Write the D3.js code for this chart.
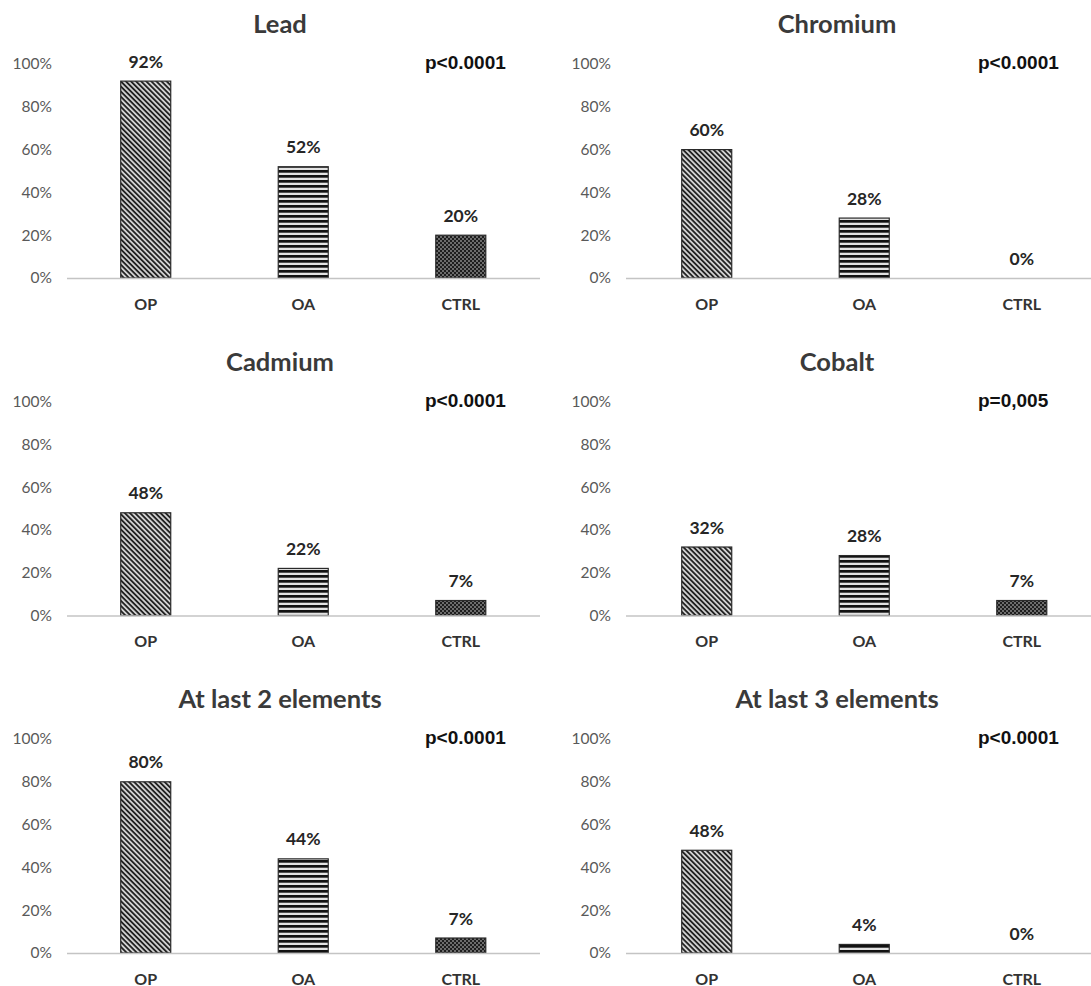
<!DOCTYPE html>
<html>
<head>
<meta charset="utf-8">
<style>
  body { margin: 0; background: #fff; }
  svg { display: block; }
</style>
</head>
<body>
<div class="container"></div>
<script src="https://d3js.org/d3.v7.min.js"></script>
<script>
  // chart data
  var titles = ['Lead', 'Chromium', 'Cadmium', 'Cobalt', 'At last 2 elements', 'At last 3 elements'];
  var categories = ['OP', 'OA', 'CTRL'];
  var values = [
    [92, 52, 20],
    [60, 28, 0],
    [48, 22, 7],
    [32, 28, 7],
    [80, 44, 7],
    [48, 4, 0]
  ];
  var pValues = ['p<0.0001', 'p<0.0001', 'p<0.0001', 'p=0,005', 'p<0.0001', 'p<0.0001'];
  var yTicks = [0, 20, 40, 60, 80, 100];

  // layout of the 2x3 grid
  var cols = [
    { tick: 52, axis0: 67, axis1: 540, band: [67, 539.5], title: 280, p: 425 },
    { tick: 611, axis0: 626, axis1: 1091, band: [628, 1100.5], title: 837, p: 978 }
  ];
  var rowBase = [278, 615.5, 953];
  var plotH = 214;

  var svg = d3.select('.container').append('svg')
      .attr('width', 1091)
      .attr('height', 986);

  var defs = svg.append('defs');

  // OP: diagonal stripes
  var pOP = defs.append('pattern')
      .attr('id', 'pat-OP')
      .attr('patternUnits', 'userSpaceOnUse')
      .attr('width', 8).attr('height', 3.6)
      .attr('patternTransform', 'rotate(45)');
  pOP.append('rect').attr('width', 8).attr('height', 3.6).attr('fill', '#d0d0d0');
  pOP.append('rect').attr('width', 8).attr('height', 1.8).attr('fill', '#222');

  // OA: horizontal stripes
  var pOA = defs.append('pattern')
      .attr('id', 'pat-OA')
      .attr('patternUnits', 'userSpaceOnUse')
      .attr('width', 10).attr('height', 5);
  pOA.append('rect').attr('width', 10).attr('height', 5).attr('fill', '#e2e2e2');
  pOA.append('rect').attr('width', 10).attr('height', 2.7).attr('fill', '#111');

  // CTRL: small checker dots
  var pCT = defs.append('pattern')
      .attr('id', 'pat-CTRL')
      .attr('patternUnits', 'userSpaceOnUse')
      .attr('width', 4).attr('height', 4);
  pCT.append('rect').attr('width', 4).attr('height', 4).attr('fill', '#1e1e1e');
  pCT.append('rect').attr('x', 0.3).attr('y', 0.3).attr('width', 1.4).attr('height', 1.4).attr('fill', '#bdbdbd');
  pCT.append('rect').attr('x', 2.3).attr('y', 2.3).attr('width', 1.4).attr('height', 1.4).attr('fill', '#bdbdbd');

  titles.forEach(function(title, i) {
    var c = cols[i % 2];
    var y0 = rowBase[Math.floor(i / 2)];
    var g = svg.append('g');

    var x = d3.scaleBand()
        .domain(categories)
        .range(c.band)
        .paddingInner(0.6825)
        .paddingOuter(0.341);

    var y = d3.scaleLinear()
        .domain([0, 100])
        .range([y0, y0 - plotH]);

    // title
    g.append('text')
        .attr('x', c.title)
        .attr('y', y0 - 245)
        .attr('text-anchor', 'middle')
        .style('font-family', 'Lato, "Open Sans", sans-serif')
        .style('font-weight', 'bold')
        .style('font-size', '25.5px')
        .style('fill', '#3a3a3a')
        .text(title);

    // y axis (labels only)
    var yAxis = d3.axisLeft(y)
        .tickValues(yTicks)
        .tickSize(0)
        .tickPadding(0)
        .tickFormat(function(d) { return d + '%'; });
    var ya = g.append('g')
        .attr('transform', 'translate(' + c.tick + ',0)')
        .call(yAxis);
    ya.select('.domain').remove();
    ya.selectAll('text')
        .style('font-family', 'Lato, "Open Sans", sans-serif')
        .style('font-size', '15.5px')
        .style('fill', '#595959');

    // bars
    g.selectAll('rect.bar')
      .data(values[i])
      .enter().append('rect')
        .attr('class', 'bar')
        .attr('x', function(d, j) { return x(categories[j]); })
        .attr('width', x.bandwidth())
        .attr('y', function(d) { return y(d); })
        .attr('height', function(d) { return y0 - y(d); })
        .attr('fill', function(d, j) { return 'url(#pat-' + categories[j] + ')'; })
        .attr('stroke', function(d) { return d > 0 ? '#2a2a2a' : 'none'; })
        .attr('stroke-width', 1.2);

    // x axis line
    g.append('line')
        .attr('x1', c.axis0).attr('x2', c.axis1)
        .attr('y1', y0 + 0.5).attr('y2', y0 + 0.5)
        .attr('stroke', '#c4c4c4')
        .attr('stroke-width', 1.5);

    // category labels
    g.selectAll('text.cat')
      .data(categories)
      .enter().append('text')
        .attr('class', 'cat')
        .attr('x', function(d) { return x(d) + x.bandwidth() / 2; })
        .attr('y', y0 + 31.5)
        .attr('text-anchor', 'middle')
        .style('font-family', 'Lato, "Open Sans", sans-serif')
        .style('font-weight', 'bold')
        .style('font-size', '16px')
        .style('fill', '#333')
        .text(function(d) { return d; });

    // value labels
    g.selectAll('text.val')
      .data(values[i])
      .enter().append('text')
        .attr('class', 'val')
        .attr('x', function(d, j) { return x(categories[j]) + x.bandwidth() / 2; })
        .attr('y', function(d) { return y(d) - 13.5; })
        .attr('text-anchor', 'middle')
        .style('font-family', 'Lato, "Open Sans", sans-serif')
        .style('font-weight', 'bold')
        .style('font-size', '17.5px')
        .style('fill', '#262626')
        .text(function(d) { return d + '%'; });

    // p value
    g.append('text')
        .attr('x', c.p)
        .attr('y', y0 - 209)
        .style('font-family', '"Liberation Sans", Arial, sans-serif')
        .style('font-weight', 'bold')
        .style('font-size', '19px')
        .style('fill', '#111')
        .text(pValues[i]);
  });
</script>
</body>
</html>
